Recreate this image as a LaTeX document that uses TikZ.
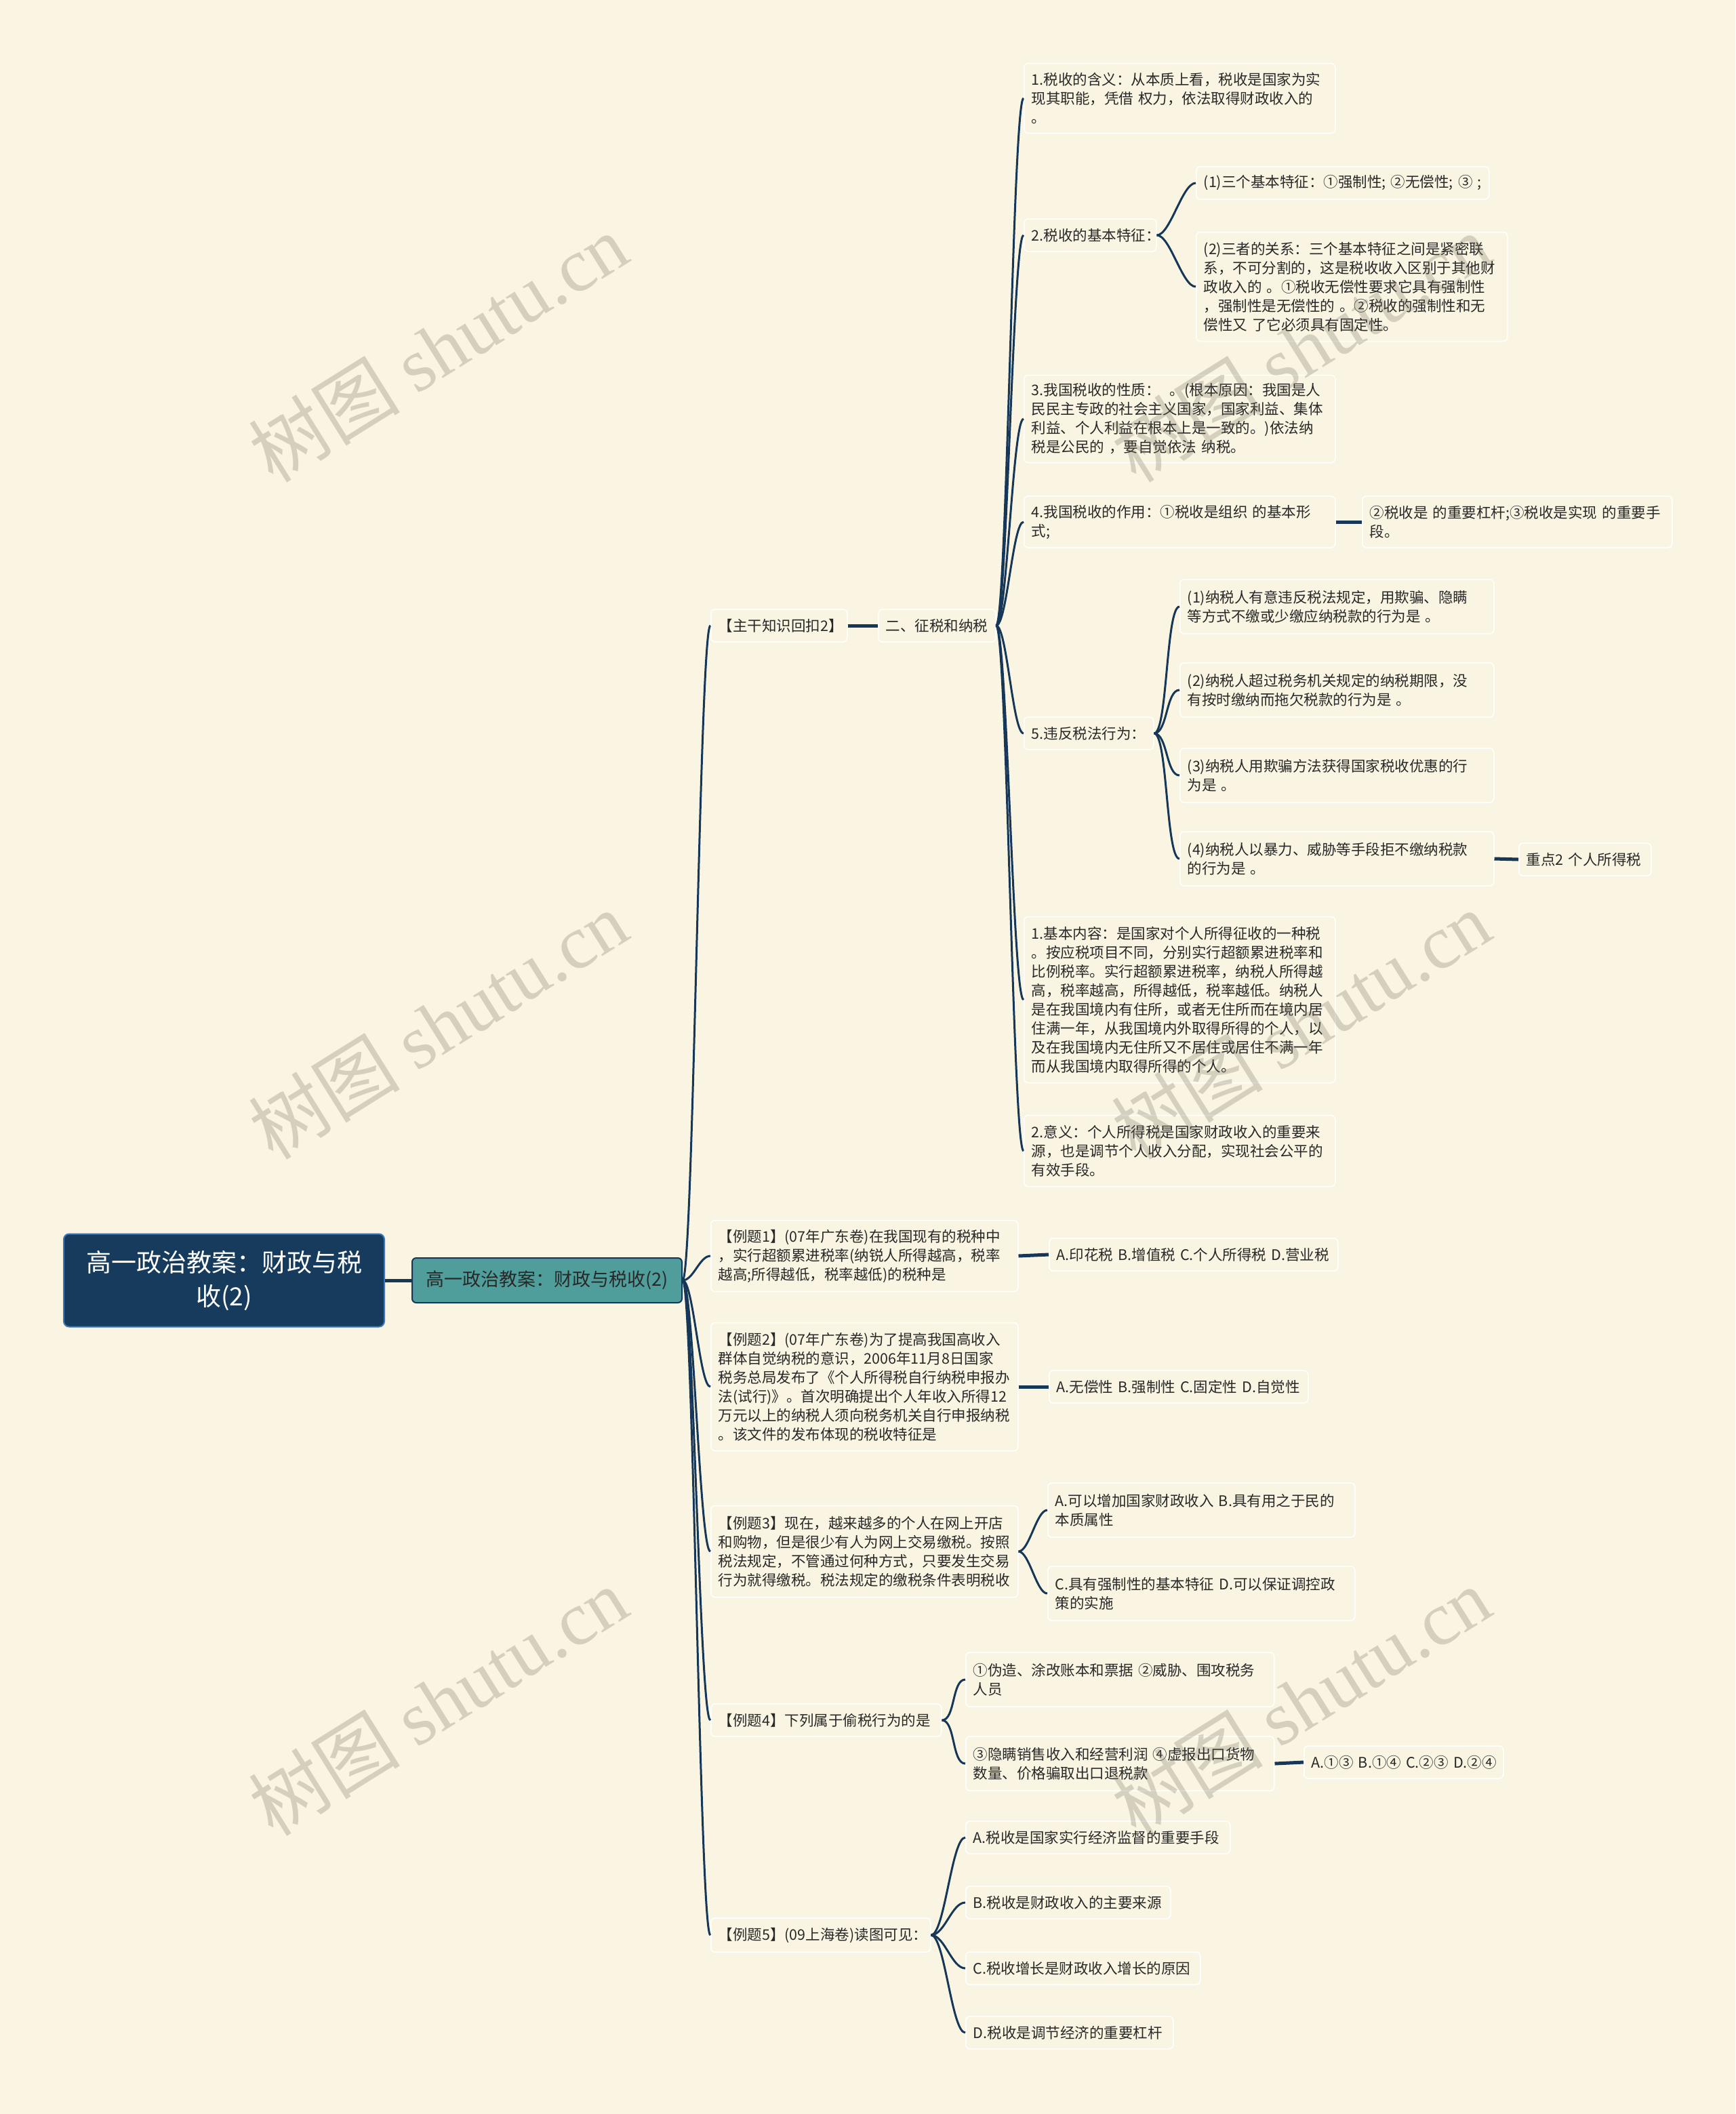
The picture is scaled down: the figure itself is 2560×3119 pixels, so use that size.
\documentclass[tikz,border=0pt]{standalone}
\usepackage{fontspec}
\setmainfont{Noto Sans CJK SC}
\newfontfamily\markfont{Liberation Serif}
\usetikzlibrary{positioning}
\definecolor{shutuPaper}{RGB}{250,245,226}
\definecolor{shutuNavy}{RGB}{22,59,92}
\definecolor{shutuEdge}{RGB}{60,120,190}
\definecolor{shutuTeal}{RGB}{80,158,155}
\definecolor{shutuLine}{RGB}{22,55,88}
\definecolor{shutuInk}{RGB}{40,40,40}
\definecolor{shutuMark}{RGB}{110,105,90}

\begin{document}
\begin{tikzpicture}[
      x=1pt, y=-1pt,
      item/.style={rounded corners=6pt, draw=white, line width=1.5pt, fill=shutuPaper, text=shutuInk,
      align=left, inner xsep=11pt, inner ysep=4pt, anchor=west, minimum height=48pt,
      font=\fontsize{21.5}{28}\selectfont},
      branch/.style={draw=shutuLine, line width=3pt},
      link/.style={draw=shutuLine, line width=5pt},
      watermark/.style={rotate=32, text=shutuMark, text opacity=0.26, font=\fontsize{112}{112}\selectfont}
    ]
    \fill[shutuPaper] (0,0) rectangle (2560,3119);
    \useasboundingbox (0,0) rectangle (2560,3119);

    % centre and first level
    \node[rounded corners=8pt, fill=shutuNavy, draw=shutuEdge, line width=2pt, text=white, align=center,
      minimum width=473pt, minimum height=137pt, anchor=west, font=\fontsize{37}{50}\selectfont]
      (root) at (93,1889) {高一政治教案：财政与税\\收(2)};
    \node[rounded corners=6pt, fill=shutuTeal, draw=shutuLine, line width=2pt, text=shutuInk,
      minimum width=398pt, minimum height=66pt, anchor=west, font=\fontsize{27}{34}\selectfont]
      (topic) at (607,1889) {高一政治教案：财政与税收(2)};

    \node[item, text width=179pt] (recap) at (1048,923) {【主干知识回扣2】};
    \node[item, text width=151pt] (levy) at (1295,923) {二、征税和纳税};

    % knowledge branch
    \node[item, text width=437pt, minimum height=103pt] (meaning) at (1510,145)
      {1.税收的含义：从本质上看，税收是国家为实\\现其职能，凭借~权力，依法取得财政收入的\\。};
    \node[item, text width=173pt] (traits) at (1510,347) {2.税收的基本特征：};
    \node[item, text width=410pt] (traitThree) at (1764,270) {(1)三个基本特征：①强制性;~②无偿性;~③~;};
    \node[item, text width=437pt, minimum height=161pt] (traitLink) at (1764,423)
      {(2)三者的关系：三个基本特征之间是紧密联\\系，不可分割的，这是税收收入区别于其他财\\政收入的~。①税收无偿性要求它具有强制性\\，强制性是无偿性的~。②税收的强制性和无\\偿性又~了它必须具有固定性。};
    \node[item, text width=437pt, minimum height=129pt] (nature) at (1510,618)
      {3.我国税收的性质：~~。(根本原因：我国是人\\民民主专政的社会主义国家，国家利益、集体\\利益、个人利益在根本上是一致的。)依法纳\\税是公民的~，要自觉依法~纳税。};
    \node[item, text width=437pt, minimum height=76pt] (role) at (1510,770)
      {4.我国税收的作用：①税收是组织~的基本形\\式;};
    \node[item, text width=435pt, minimum height=76pt] (roleMore) at (2009,770)
      {②税收是~的重要杠杆;③税收是实现~的重要手\\段。};
    \node[item, text width=169pt] (breach) at (1510,1082) {5.违反税法行为：};
    \node[item, text width=441pt, minimum height=80pt] (evade) at (1740,895)
      {(1)纳税人有意违反税法规定，用欺骗、隐瞒\\等方式不缴或少缴应纳税款的行为是~。};
    \node[item, text width=441pt, minimum height=80pt] (arrear) at (1740,1018)
      {(2)纳税人超过税务机关规定的纳税期限，没\\有按时缴纳而拖欠税款的行为是~。};
    \node[item, text width=441pt, minimum height=80pt] (cheat) at (1740,1144)
      {(3)纳税人用欺骗方法获得国家税收优惠的行\\为是~。};
    \node[item, text width=441pt, minimum height=80pt] (resist) at (1740,1267)
      {(4)纳税人以暴力、威胁等手段拒不缴纳税款\\的行为是~。};
    \node[item, text width=173pt] (focus) at (2240,1268) {重点2~个人所得税};
    \node[item, text width=437pt, minimum height=245pt] (incomeTax) at (1510,1475)
      {1.基本内容：是国家对个人所得征收的一种税\\。按应税项目不同，分别实行超额累进税率和\\比例税率。实行超额累进税率，纳税人所得越\\高，税率越高，所得越低，税率越低。纳税人\\是在我国境内有住所，或者无住所而在境内居\\住满一年，从我国境内外取得所得的个人，以\\及在我国境内无住所又不居住或居住不满一年\\而从我国境内取得所得的个人。};
    \node[item, text width=437pt, minimum height=105pt] (incomeUse) at (1510,1698)
      {2.意义：个人所得税是国家财政收入的重要来\\源，也是调节个人收入分配，实现社会公平的\\有效手段。};

    % worked examples
    \node[item, text width=431pt, minimum height=105pt] (exOne) at (1048,1853)
      {【例题1】(07年广东卷)在我国现有的税种中\\，实行超额累进税率(纳锐人所得越高，税率\\越高;所得越低，税率越低)的税种是};
    \node[item, text width=404pt] (exOneKey) at (1547,1851) {A.印花税~B.增值税~C.个人所得税~D.营业税};
    \node[item, text width=431pt, minimum height=189pt] (exTwo) at (1048,2046)
      {【例题2】(07年广东卷)为了提高我国高收入\\群体自觉纳税的意识，2006年11月8日国家\\税务总局发布了《个人所得税自行纳税申报办\\法(试行)》。首次明确提出个人年收入所得12\\万元以上的纳税人须向税务机关自行申报纳税\\。该文件的发布体现的税收特征是};
    \node[item, text width=360pt] (exTwoKey) at (1547,2046) {A.无偿性~B.强制性~C.固定性~D.自觉性};
    \node[item, text width=431pt, minimum height=135pt] (exThree) at (1048,2289)
      {【例题3】现在，越来越多的个人在网上开店\\和购物，但是很少有人为网上交易缴税。按照\\税法规定，不管通过何种方式，只要发生交易\\行为就得缴税。税法规定的缴税条件表明税收};
    \node[item, text width=431pt, minimum height=80pt] (exThreeAB) at (1545,2228)
      {A.可以增加国家财政收入~B.具有用之于民的\\本质属性};
    \node[item, text width=431pt, minimum height=80pt] (exThreeCD) at (1545,2351)
      {C.具有强制性的基本特征~D.可以保证调控政\\策的实施};
    \node[item, text width=318pt] (exFour) at (1048,2538) {【例题4】下列属于偷税行为的是};
    \node[item, text width=433pt, minimum height=80pt] (exFourA) at (1424,2478)
      {①伪造、涂改账本和票据~②威胁、围攻税务\\人员};
    \node[item, text width=433pt, minimum height=80pt] (exFourB) at (1424,2602)
      {③隐瞒销售收入和经营利润~④虚报出口货物\\数量、价格骗取出口退税款};
    \node[item, text width=272pt] (exFourKey) at (1923,2600) {A.①③~B.①④~C.②③~D.②④};
    \node[item, text width=302pt, minimum height=50pt] (exFive) at (1048,2855) {【例题5】(09上海卷)读图可见：};
    \node[item, text width=368pt] (exFiveA) at (1424,2711) {A.税收是国家实行经济监督的重要手段};
    \node[item, text width=280pt] (exFiveB) at (1424,2807) {B.税收是财政收入的主要来源};
    \node[item, text width=324pt] (exFiveC) at (1424,2904) {C.税收增长是财政收入增长的原因};
    \node[item, text width=284pt] (exFiveD) at (1424,2999) {D.税收是调节经济的重要杠杆};

    % connectors
    \draw[link] (root.east) -- (topic.west);
    \draw[link] (recap.east) -- (levy.west);
    \draw[link] (role.east) -- (roleMore.west);
    \draw[link] (resist.east) -- (focus.west);
    \draw[link] (exOne.east) -- (exOneKey.west);
    \draw[link] (exTwo.east) -- (exTwoKey.west);
    \draw[link] (exFourB.east) -- (exFourKey.west);
    \foreach \leaf in {recap,exOne,exTwo,exThree,exFour,exFive}
      \draw[branch] (topic.east) .. controls +(16,0) and +(-16,0) .. (\leaf.west);
    \foreach \leaf in {meaning,traits,nature,role,breach,incomeTax,incomeUse}
      \draw[branch] (levy.east) .. controls +(16,0) and +(-16,0) .. (\leaf.west);
    \foreach \leaf in {traitThree,traitLink}
      \draw[branch] (traits.east) .. controls +(20,0) and +(-20,0) .. (\leaf.west);
    \foreach \leaf in {evade,arrear,cheat,resist}
      \draw[branch] (breach.east) .. controls +(20,0) and +(-20,0) .. (\leaf.west);
    \foreach \leaf in {exThreeAB,exThreeCD}
      \draw[branch] (exThree.east) .. controls +(16,0) and +(-16,0) .. (\leaf.west);
    \foreach \leaf in {exFourA,exFourB}
      \draw[branch] (exFour.east) .. controls +(20,0) and +(-20,0) .. (\leaf.west);
    \foreach \leaf in {exFiveA,exFiveB,exFiveC,exFiveD}
      \draw[branch] (exFive.east) .. controls +(20,0) and +(-20,0) .. (\leaf.west);

    % watermarks
    \foreach \wx/\wy [count=\wi] in {646/513, 1919/513, 646/1512, 1919/1512, 646/2510, 1919/2510}
      \node[watermark] (mark\wi) at (\wx,\wy) {树图 {\markfont shutu.cn}};
  \end{tikzpicture}
\end{document}
